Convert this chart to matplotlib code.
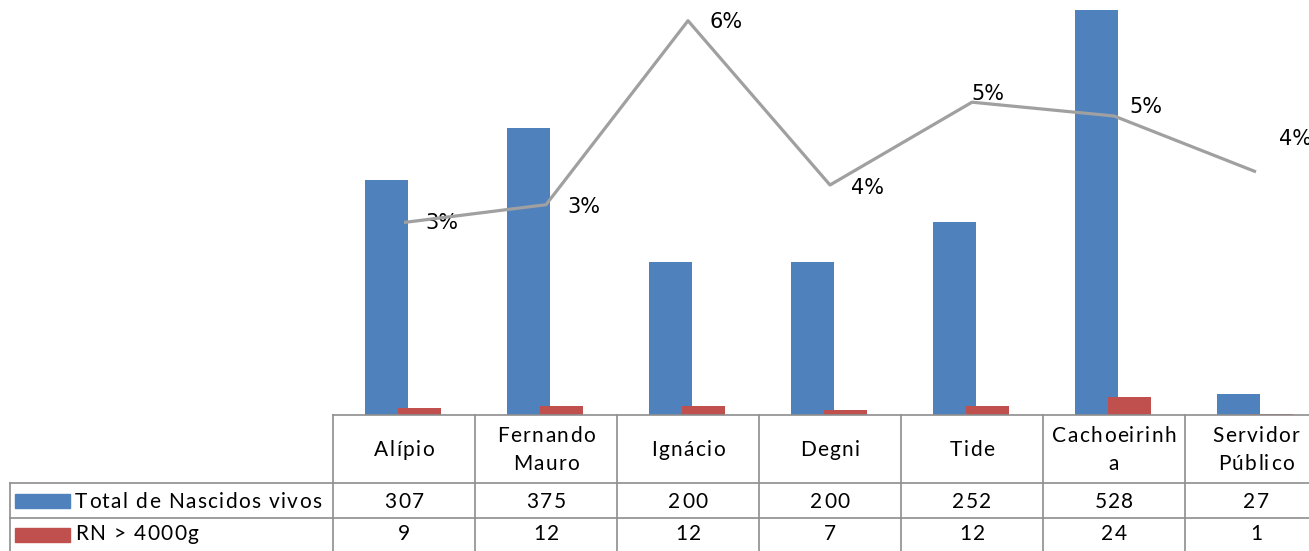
import matplotlib
matplotlib.use("Agg")
import matplotlib.pyplot as plt
from matplotlib.patches import Rectangle
from matplotlib.lines import Line2D
from matplotlib.font_manager import FontProperties
from matplotlib.textpath import TextToPath

# ---- data ----
categories = ["Alípio", "Fernando\nMauro", "Ignácio", "Degni", "Tide", "Cachoeirinh\na", "Servidor\nPúblico"]
total_nascidos = [307, 375, 200, 200, 252, 528, 27]
rn_4000 = [9, 12, 12, 7, 12, 24, 1]
pct_values = [2.93, 3.20, 6.00, 3.50, 4.76, 4.55, 3.70]   # percent
pct_labels = ["3%", "3%", "6%", "4%", "5%", "5%", "4%"]
series_names = ["Total de Nascidos vivos", "RN > 4000g"]

BLUE = "#4F81BD"
RED = "#C0504D"
GRAY = "#A0A0A0"
GRID = "#8E8E8E"

W, H = 1309, 551
DPI = 100
fig = plt.figure(figsize=(W / DPI, H / DPI), dpi=DPI)

def fx(px):
    return px / W

def fy(py_top):
    return (H - py_top) / H

# plot area (extends beyond figure at top and right like the cropped original)
left_px, right_px = 333, 1327
base_px, top_px = 415, -45
ax = fig.add_axes([fx(left_px), fy(base_px), fx(right_px - left_px), (base_px - top_px) / H])
ax2 = ax.twinx()

n = len(categories)
x = list(range(n))
bw = 0.30
ax.bar([i - 0.125 for i in x], total_nascidos, width=bw, color=BLUE, zorder=2)
ax.bar([i + 0.11 for i in x], rn_4000, width=bw, color=RED, zorder=3)
ax.set_xlim(-0.5, n - 0.5)
ax.set_ylim(0, 600)

ax2.plot(x, [v / 100 for v in pct_values], color=GRAY, lw=2.3, solid_capstyle="butt", zorder=4)
ax2.set_ylim(0, 0.07)
offsets = [(38, -1), (38, -2), (38, -1), (37, -3), (16, 8), (32, 9), (39, 33)]
for i, (v, lab) in enumerate(zip(pct_values, pct_labels)):
    ax2.annotate(lab, (i, v / 100), xytext=offsets[i], textcoords="offset pixels",
                 ha="center", va="center", fontsize=15, family="DejaVu Sans", color="black")

for a in (ax, ax2):
    a.set_xticks([])
    a.set_yticks([])
    for s in a.spines.values():
        s.set_visible(False)
ax.set_zorder(1)
ax2.set_zorder(2)
ax2.patch.set_visible(False)

# ---- letter-spaced text helper (Excel-like loose spacing) ----
FS = 15
fp = FontProperties(family=["Lato", "DejaVu Sans"], size=FS)
t2p = TextToPath()
SPACING = 1.4  # extra px between characters

def char_w(c):
    w, _, _ = t2p.get_text_width_height_descent(c, fp, ismath=False)
    return w * DPI / 72.0

def spaced_text(xp, yp, s, ha="center"):
    widths = [char_w(c) for c in s]
    total = sum(widths) + SPACING * (len(s) - 1)
    x0 = xp - total / 2 if ha == "center" else xp
    for c, w in zip(s, widths):
        fig.text(fx(x0), fy(yp), c, ha="left", va="center", fontproperties=fp, color="black")
        x0 += w + SPACING

# ---- data table ----
col_w = (right_px - left_px) / n
row_y = [415, 483, 518, 553]
lw = 1.2

def hline(y, x0, x1):
    fig.add_artist(Line2D([fx(x0), fx(x1)], [fy(y), fy(y)], color=GRID, lw=lw))

def vline(xp, y0, y1):
    fig.add_artist(Line2D([fx(xp), fx(xp)], [fy(y0), fy(y1)], color=GRID, lw=lw))

hline(row_y[0], left_px, right_px)
hline(row_y[1], 10, right_px)
hline(row_y[2], 10, right_px)
hline(row_y[3], 10, right_px)
vline(10, row_y[1], row_y[3])
for k in range(n + 1):
    vline(left_px + k * col_w, row_y[0], row_y[3])

line_gap = 28
for i, cat in enumerate(categories):
    cx = left_px + (i + 0.5) * col_w
    lines = cat.split("\n")
    yc = (row_y[0] + row_y[1]) / 2 + 1
    y_first = yc - line_gap * (len(lines) - 1) / 2
    for j, ln in enumerate(lines):
        spaced_text(cx, y_first + j * line_gap, ln)
    spaced_text(cx, (row_y[1] + row_y[2]) / 2 + 1, str(total_nascidos[i]))
    spaced_text(cx, (row_y[2] + row_y[3]) / 2 - 1, str(rn_4000[i]))

for r, (name, col) in enumerate(zip(series_names, [BLUE, RED])):
    yc = (row_y[1 + r] + row_y[2 + r]) / 2 - (1 if r == 1 else 0)
    fig.add_artist(Rectangle((fx(15), fy(yc + 7)), fx(55), 14 / H, color=col))
    spaced_text(75, yc + (1 if r == 0 else 0), name, ha="left")

fig.savefig("out.png", dpi=DPI)
